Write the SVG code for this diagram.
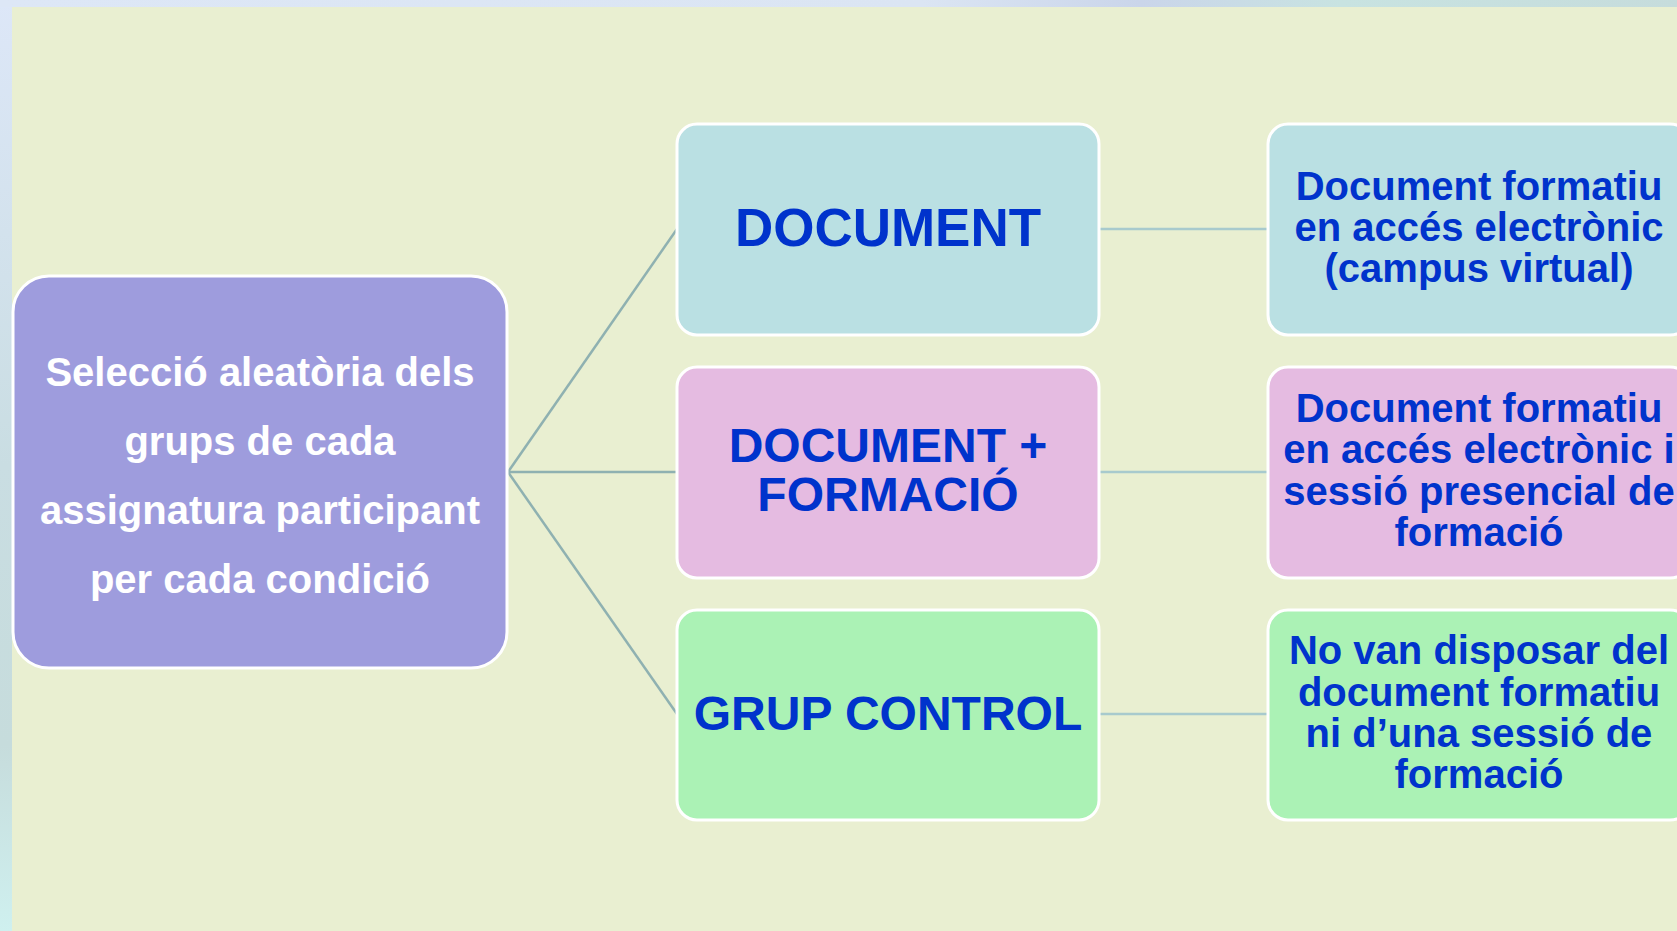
<svg xmlns="http://www.w3.org/2000/svg" width="1677" height="931" viewBox="0 0 1677 931">
  <defs>
    <linearGradient id="frameV" x1="0" y1="0" x2="0" y2="1">
      <stop offset="0" stop-color="#dde7f8"/>
      <stop offset="0.5" stop-color="#c9dde2"/>
      <stop offset="0.8" stop-color="#c6dcdc"/>
      <stop offset="1" stop-color="#cff0ef"/>
    </linearGradient>
    <linearGradient id="frameH" x1="0" y1="0" x2="1" y2="0">
      <stop offset="0" stop-color="#dde7f6"/>
      <stop offset="0.55" stop-color="#dbe5f3"/>
      <stop offset="0.68" stop-color="#cad5ea"/>
      <stop offset="0.8" stop-color="#c8e3e1"/>
      <stop offset="1" stop-color="#c6dcdc"/>
    </linearGradient>
    <style>
      .box { stroke: #ffffff; stroke-width: 3; }
      .root { fill: #9e9cdd; }
      .doc { fill: #bae0e3; }
      .form { fill: #e5bbe1; }
      .ctrl { fill: #abf2b5; }
      .t { font-family: "Liberation Sans", Arial, sans-serif; font-weight: bold; text-anchor: middle; }
      .white { fill: #ffffff; font-size: 40px; }
      .blue { fill: #0033cc; }
      .big { font-size: 53px; }
      .mid { font-size: 48px; }
      .small { font-size: 40px; }
      .c1 { stroke: #8fb1b1; stroke-width: 2.5; fill: none; }
      .c2 { stroke: #a8cacd; stroke-width: 2.5; fill: none; }
    </style>
  </defs>

  <!-- background -->
  <rect x="0" y="0" width="1677" height="931" fill="url(#frameV)"/>
  <rect x="0" y="0" width="1677" height="7" fill="url(#frameH)"/>
  <rect x="12" y="7" width="1665" height="924" fill="#e9efd1"/>

  <!-- connectors -->
  <g id="connectors">
    <line class="c1" x1="508" y1="472" x2="677" y2="229"/>
    <line class="c1" x1="508" y1="472" x2="677" y2="472"/>
    <line class="c1" x1="508" y1="472" x2="677" y2="714"/>
    <line class="c2" x1="1099" y1="229" x2="1268" y2="229"/>
    <line class="c2" x1="1099" y1="472" x2="1268" y2="472"/>
    <line class="c2" x1="1099" y1="714" x2="1268" y2="714"/>
  </g>

  <!-- root node -->
  <g id="node-root">
    <rect class="box root" x="13" y="276" width="494" height="392" rx="36" ry="36"/>
    <text class="t white" x="260" y="386">Selecció aleatòria dels</text>
    <text class="t white" x="260" y="455">grups de cada</text>
    <text class="t white" x="260" y="524">assignatura participant</text>
    <text class="t white" x="260" y="593">per cada condició</text>
  </g>

  <!-- middle column -->
  <g id="node-document">
    <rect class="box doc" x="677" y="124" width="422" height="211" rx="20" ry="20"/>
    <text class="t blue big" x="888" y="246">DOCUMENT</text>
  </g>
  <g id="node-document-formacio">
    <rect class="box form" x="677" y="367" width="422" height="211" rx="20" ry="20"/>
    <text class="t blue mid" x="888" y="462">DOCUMENT +</text>
    <text class="t blue mid" x="888" y="511">FORMACIÓ</text>
  </g>
  <g id="node-grup-control">
    <rect class="box ctrl" x="677" y="610" width="422" height="210" rx="20" ry="20"/>
    <text class="t blue mid" x="888" y="730">GRUP CONTROL</text>
  </g>

  <!-- right column -->
  <g id="node-desc-document">
    <rect class="box doc" x="1268" y="124" width="422" height="211" rx="20" ry="20"/>
    <text class="t blue small" x="1479" y="200">Document formatiu</text>
    <text class="t blue small" x="1479" y="241">en accés electrònic</text>
    <text class="t blue small" x="1479" y="282">(campus virtual)</text>
  </g>
  <g id="node-desc-formacio">
    <rect class="box form" x="1268" y="367" width="422" height="211" rx="20" ry="20"/>
    <text class="t blue small" x="1479" y="422">Document formatiu</text>
    <text class="t blue small" x="1479" y="463">en accés electrònic i</text>
    <text class="t blue small" x="1479" y="505">sessió presencial de</text>
    <text class="t blue small" x="1479" y="546">formació</text>
  </g>
  <g id="node-desc-control">
    <rect class="box ctrl" x="1268" y="610" width="422" height="210" rx="20" ry="20"/>
    <text class="t blue small" x="1479" y="664">No van disposar del</text>
    <text class="t blue small" x="1479" y="706">document formatiu</text>
    <text class="t blue small" x="1479" y="747">ni d’una sessió de</text>
    <text class="t blue small" x="1479" y="788">formació</text>
  </g>
</svg>
